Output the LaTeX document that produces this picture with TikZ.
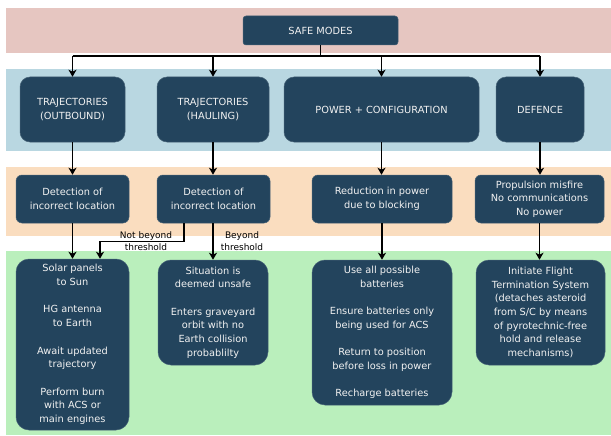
\documentclass[tikz,border=0pt]{standalone}
\usepackage{fontspec}
\setmainfont{DejaVu Sans}
\usetikzlibrary{arrows.meta}
\definecolor{boxfill}{HTML}{23445D}
\definecolor{boxtext}{HTML}{F2F2F2}
\definecolor{bandred}{HTML}{E6C6C1}
\definecolor{bandblue}{HTML}{B9D7E1}
\definecolor{bandorange}{HTML}{FADDBF}
\definecolor{bandgreen}{HTML}{BAEFBC}
\tikzset{
  box/.style={fill=boxfill, draw=boxfill!85!white, line width=0.5pt, text=boxtext, align=center,
    inner sep=0pt, font=\fontsize{9.8}{13.7}\selectfont},
  toprow/.style={box, rounded corners=3pt},
  catbox/.style={box, rounded corners=10pt},
  detbox/.style={box, rounded corners=6pt},
  actbox/.style={box, rounded corners=13pt},
  conn/.style={line width=1.2pt, black},
  arr/.style={conn, -{Stealth[length=7pt,width=8pt,inset=2pt]}},
  lbl/.style={align=center, inner sep=0pt, font=\fontsize{9}{11.7}\selectfont, text=black},
}
\begin{document}
\begin{tikzpicture}[x=1pt,y=-1pt]
\useasboundingbox (0,0) rectangle (611,436);
% bands
\fill[bandred] (6,8) rectangle (611,53);
\fill[bandblue] (6,69) rectangle (611,151);
\fill[bandorange] (6,167) rectangle (611,236);
\fill[bandgreen] (6,251) rectangle (611,435);
% top
\node[toprow, minimum width=155pt, minimum height=29pt] (safe) at (320.5,30.5) {SAFE MODES};
% categories
\node[catbox, minimum width=105pt, minimum height=65pt] (out) at (72.5,109.5) {TRAJECTORIES\\(OUTBOUND)};
\node[catbox, minimum width=112pt, minimum height=65pt] (haul) at (213,109.5) {TRAJECTORIES\\(HAULING)};
\node[catbox, minimum width=195pt, minimum height=65pt] (pow) at (381.5,109.5) {POWER + CONFIGURATION};
\node[catbox, minimum width=88pt, minimum height=65pt] (def) at (540,109.5) {DEFENCE};
% detections
\node[detbox, minimum width=113pt, minimum height=48pt] (det1) at (72.5,199) {Detection of\\incorrect location};
\node[detbox, minimum width=113pt, minimum height=48pt] (det2) at (213.5,199) {Detection of\\incorrect location};
\node[detbox, minimum width=140pt, minimum height=48pt] (red) at (382,199) {Reduction in power\\due to blocking};
\node[detbox, minimum width=129pt, minimum height=48pt] (prop) at (539.5,199) {Propulsion misfire\\No communications\\No power};
% actions
\node[actbox, minimum width=113pt, minimum height=171pt] (solar) at (72.5,344.5)
  {Solar panels\\to Sun\\[13.7pt]HG antenna\\to Earth\\[13.7pt]Await updated\\trajectory\\[13.7pt]Perform burn\\with ACS or\\main engines};
\node[actbox, minimum width=110pt, minimum height=105pt] (sit) at (213,312.5)
  {Situation is\\deemed unsafe\\[13.7pt]Enters graveyard\\orbit with no\\Earth collision\\probablilty};
\node[actbox, minimum width=140pt, minimum height=145pt] (use) at (382,332.5)
  {Use all possible\\batteries\\[13.7pt]Ensure batteries only\\being used for ACS\\[13.7pt]Return to position\\before loss in power\\[13.7pt]Recharge batteries};
\node[actbox, minimum width=129pt, minimum height=105pt] (init) at (540.5,312.5)
  {Initiate Flight\\Termination System\\(detaches asteroid\\from S/C by means\\of pyrotechnic-free\\hold and release\\mechanisms)};
% bus
\coordinate (bus) at (0,56);
\draw[conn] (safe.south) -- (safe.south |- bus);
\draw[conn] (out.north |- bus) -- (def.north |- bus);
\draw[arr] (out.north |- bus) -- (out.north);
\draw[arr] (haul.north |- bus) -- (haul.north);
\draw[arr] (pow.north |- bus) -- (pow.north);
\draw[arr] (def.north |- bus) -- (def.north);
% category -> detection
\draw[arr] (out.south) -- (out.south |- det1.north);
\draw[arr] (haul.south) -- (haul.south |- det2.north);
\draw[arr] (pow.south) -- (pow.south |- red.north);
\draw[arr] (def.south) -- (def.south |- prop.north);
% detection -> action
\draw[arr] (det1.south) -- (det1.south |- solar.north);
\draw[arr] (sit.north |- det2.south) -- (sit.north);
\draw[arr] (red.south) -- (red.south |- use.north);
\draw[arr] (prop.south) -- (prop.south |- init.north);
\draw[arr] ([xshift=-29.5pt]det2.south) -- ++(0,18) -| ([xshift=27.5pt]solar.north);
\node[lbl] (nb) at (146,241) {Not beyond\\threshold};
\node[lbl] (bt) at (242,241) {Beyond\\threshold};
\end{tikzpicture}
\end{document}
